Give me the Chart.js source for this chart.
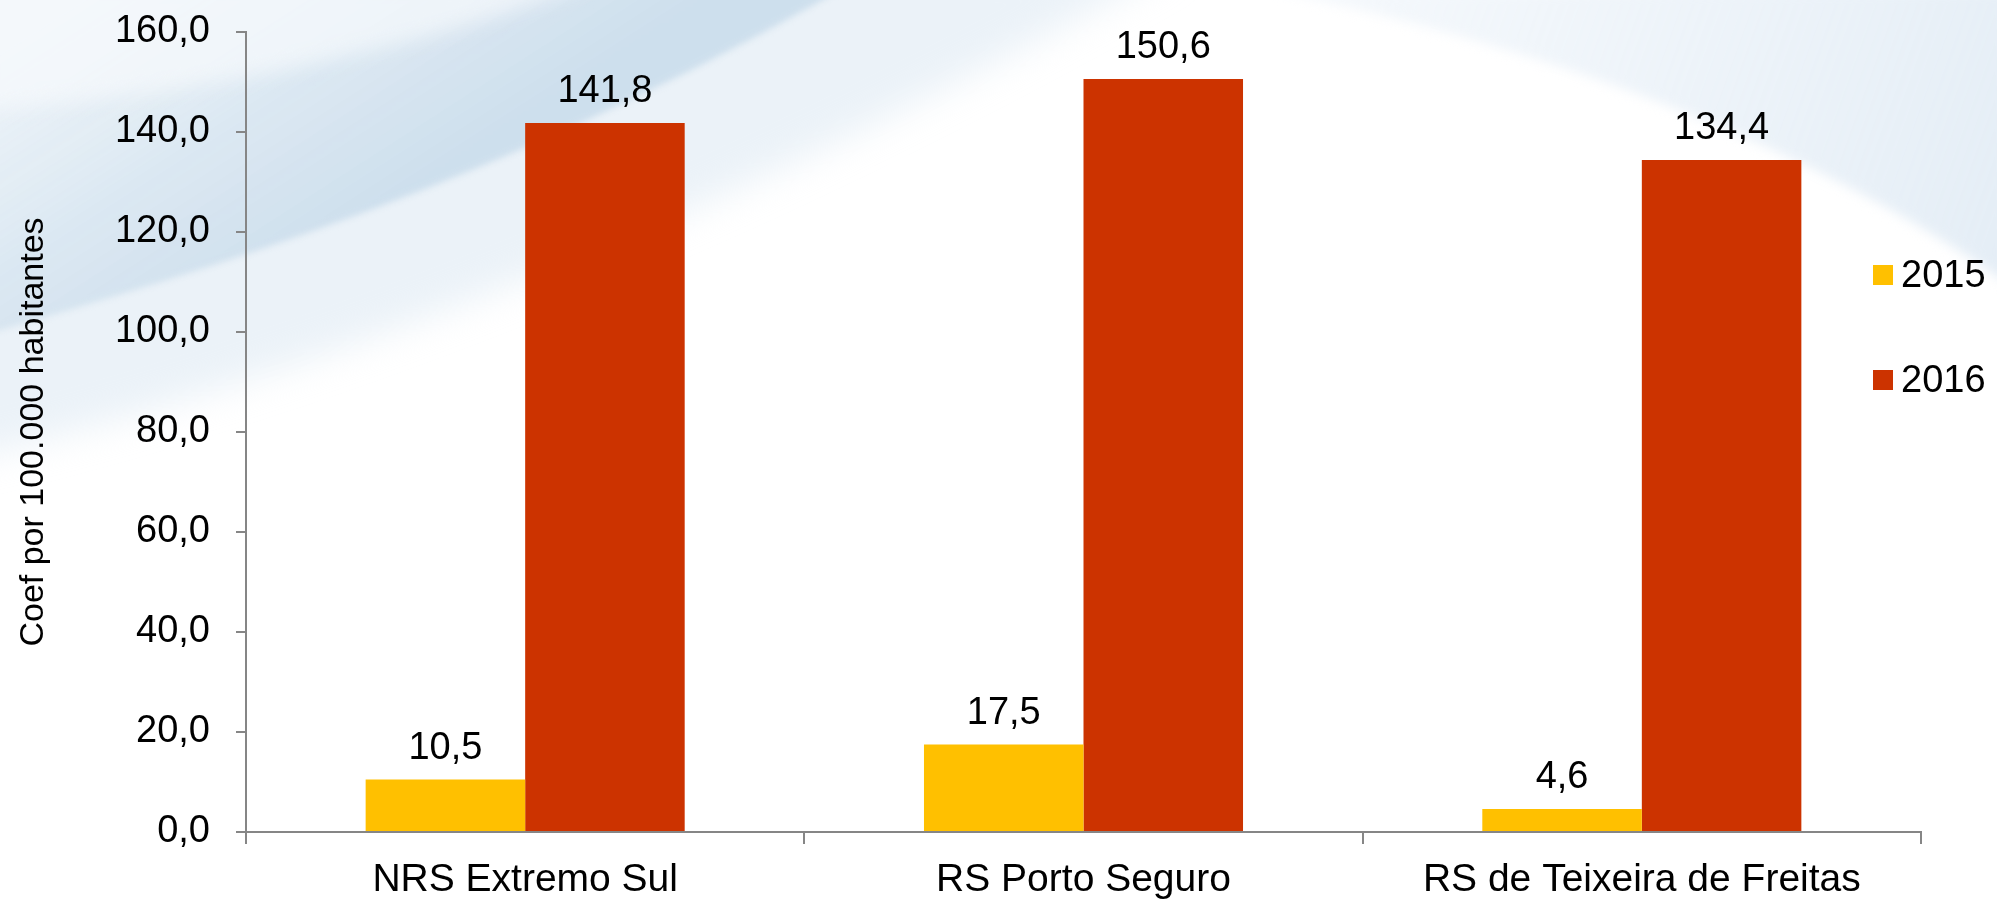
<!DOCTYPE html>
<html lang="pt">
<head>
    <meta charset="UTF-8">
    <title>Coef por 100.000 habitantes</title>
    <script src="https://cdn.jsdelivr.net/npm/chart.js"></script>
    <style>
        html, body { margin: 0; padding: 0; background: #fff; }
        #wrap { width: 1997px; height: 899px; }
    </style>
</head>
<body>
    <div id="wrap"><canvas id="chart" width="1997" height="899"></canvas></div>
    <script>
        // dados
        const categories = ['NRS Extremo Sul', 'RS Porto Seguro', 'RS de Teixeira de Freitas'];
        const years = ['2015', '2016'];
        const values2015 = [10.5, 17.5, 4.6];
        const values2016 = [141.8, 150.6, 134.4];
        const yTicks = [0, 20, 40, 60, 80, 100, 120, 140, 160];
        const axisTitle = 'Coef por 100.000 habitantes';

        const colors = ['#FFC000', '#CC3300'];
        const FONT = "'Liberation Sans', Arial, sans-serif";
        const fmt = v => v.toFixed(1).replace('.', ',');

        // fundo com a faixa azul clara (só decoração)
        const backdrop = {
            id: 'backdrop',
            beforeDraw(chart) {
                const c = chart.ctx;
                c.save();
                c.fillStyle = '#fff';
                c.fillRect(0, 0, chart.width, chart.height);

                // camada difusa de baixo
                c.filter = 'blur(18px)';
                c.fillStyle = 'rgba(222,234,244,0.6)';
                c.beginPath();
                c.moveTo(-40, -40);
                c.lineTo(-40, 460);
                c.bezierCurveTo(350, 370, 800, 180, 1180, -40);
                c.closePath();
                c.fill();

                // faixa principal
                c.filter = 'blur(3px)';
                let g = c.createLinearGradient(260, 280, 80, 0);
                g.addColorStop(0, 'rgba(204,222,236,0.95)');
                g.addColorStop(0.45, 'rgba(218,231,241,0.9)');
                g.addColorStop(1, 'rgba(238,244,249,0.8)');
                c.fillStyle = g;
                c.beginPath();
                c.moveTo(-10, -10);
                c.lineTo(-10, 333);
                c.bezierCurveTo(300, 245, 560, 150, 840, -10);
                c.closePath();
                c.fill();

                // listra clara dentro da faixa
                c.filter = 'blur(10px)';
                c.fillStyle = 'rgba(246,249,252,0.7)';
                c.beginPath();
                c.moveTo(-20, -20);
                c.lineTo(-20, 110);
                c.bezierCurveTo(200, 95, 420, 50, 600, -20);
                c.closePath();
                c.fill();

                // canto superior direito
                c.filter = 'blur(6px)';
                g = c.createLinearGradient(1300, 0, 1997, 250);
                g.addColorStop(0, 'rgba(238,244,250,0.6)');
                g.addColorStop(1, 'rgba(226,236,245,0.9)');
                c.fillStyle = g;
                c.beginPath();
                c.moveTo(1270, -10);
                c.bezierCurveTo(1560, 50, 1820, 150, 2010, 285);
                c.lineTo(2010, -10);
                c.closePath();
                c.fill();
                c.restore();
            }
        };

        // rótulos de valor acima das barras
        const valueLabels = {
            id: 'valueLabels',
            afterDatasetsDraw(chart) {
                const c = chart.ctx;
                c.save();
                c.font = '38px ' + FONT;
                c.fillStyle = '#000';
                c.textAlign = 'center';
                c.textBaseline = 'alphabetic';
                chart.data.datasets.forEach((ds, i) => {
                    chart.getDatasetMeta(i).data.forEach((bar, j) => {
                        c.fillText(fmt(ds.data[j]), bar.x, bar.y - 21);
                    });
                });
                c.restore();
            }
        };

        // legenda à direita, por cima da área do gráfico
        const sideLegend = {
            id: 'sideLegend',
            afterDraw(chart) {
                const c = chart.ctx;
                const rows = [275, 380];
                c.save();
                c.font = '38px ' + FONT;
                c.textAlign = 'left';
                c.textBaseline = 'middle';
                chart.data.datasets.forEach((ds, i) => {
                    c.fillStyle = ds.backgroundColor;
                    c.fillRect(1873, rows[i] - 10, 20, 20);
                    c.fillStyle = '#000';
                    c.fillText(ds.label, 1901, rows[i] + 2);
                });
                c.restore();
            }
        };

        const ctx = document.getElementById('chart').getContext('2d');
        new Chart(ctx, {
            type: 'bar',
            data: {
                labels: categories,
                datasets: [
                    { label: years[0], data: values2015, backgroundColor: colors[0] },
                    { label: years[1], data: values2016, backgroundColor: colors[1] }
                ]
            },
            options: {
                responsive: false,
                animation: false,
                devicePixelRatio: 1,
                categoryPercentage: 2 / 3.5,
                barPercentage: 1,
                layout: { padding: { top: 32, right: 76, left: 0, bottom: 0 } },
                plugins: {
                    legend: { display: false },
                    tooltip: { enabled: false }
                },
                scales: {
                    x: {
                        grid: { drawOnChartArea: false, tickLength: 12, color: '#868686', lineWidth: 2 },
                        border: { color: '#868686', width: 2 },
                        ticks: { font: { family: FONT, size: 39 }, color: '#000', padding: 13, maxRotation: 0 },
                        afterFit: s => { s.height = 67; }
                    },
                    y: {
                        min: 0,
                        max: 160,
                        afterBuildTicks: s => { s.ticks = yTicks.map(v => ({ value: v })); },
                        grid: { drawOnChartArea: false, tickLength: 10, color: '#868686', lineWidth: 2 },
                        border: { color: '#868686', width: 2 },
                        ticks: {
                            font: { family: FONT, size: 38 },
                            color: '#000',
                            padding: 26,
                            callback: v => fmt(v)
                        },
                        title: {
                            display: true,
                            text: axisTitle,
                            font: { family: FONT, size: 34 },
                            color: '#000',
                            padding: { top: 13, bottom: 0 }
                        },
                        afterFit: s => {
                            s.width = 246;
                            // sem folga extra em cima: a área começa no padding do layout
                            s.paddingTop = 0;
                            s.paddingBottom = 0;
                        }
                    }
                }
            },
            plugins: [backdrop, valueLabels, sideLegend]
        });
    </script>
</body>
</html>
